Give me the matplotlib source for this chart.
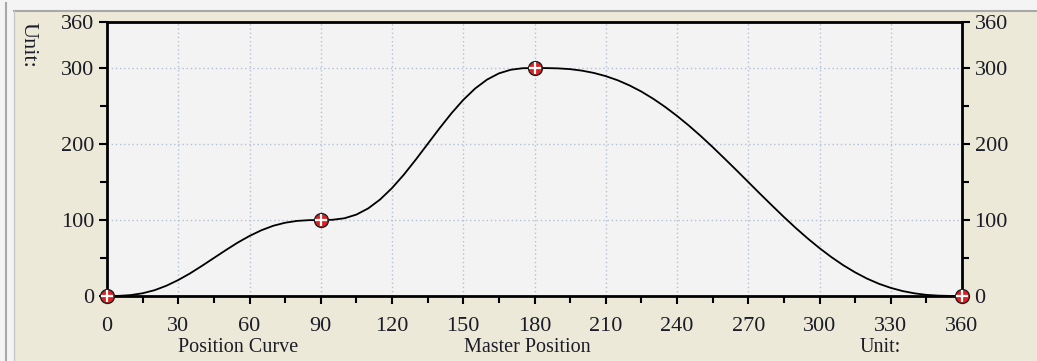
import matplotlib
matplotlib.use("Agg")
import matplotlib.pyplot as plt
from matplotlib.patches import Rectangle
from matplotlib.lines import Line2D

# curve (master position vs slave position), every 5 deg
master_pos = list(range(0, 361, 5))
slave_pos = [0, 0.2, 1.2, 3.6, 7.6, 13.5, 21, 29.8, 39.7, 50,
             60.3, 70.2, 79, 86.5, 92.4, 96.4, 98.8, 99.8, 100,
             100.3, 102.3, 107.1, 115.3, 127, 142, 159.7, 179.4, 200,
             220.6, 240.3, 258, 273, 284.7, 292.9, 297.7, 299.7, 300,
             299.9, 299.5, 298.5, 296.5, 293.5, 289.3, 283.9, 277.1, 269,
             259.5, 248.8, 237, 224.2, 210.5, 196, 180.9, 165.6, 150,
             134.4, 119.1, 104, 89.5, 75.8, 63, 51.2, 40.5, 31.1,
             22.9, 16.1, 10.7, 6.5, 3.5, 1.5, 0.5, 0.1, 0]

# key points (red markers)
key_x = [0, 90, 180, 360]
key_y = [0, 100, 300, 0]

x_ticks = list(range(0, 361, 30))
y_ticks = [0, 100, 200, 300, 360]
y_grid = [100, 200, 300]

plt.rcParams['font.family'] = ['Liberation Serif', 'DejaVu Serif']
txt_col = "#1C1C28"

fig = plt.figure(figsize=(10.37, 3.61), dpi=100)
fig.patch.set_facecolor("#ECE9D8")

# window frame bits (light strip + grey line at top/left)
fig.patches.append(Rectangle((0, 0), 1, 1, transform=fig.transFigure,
                             facecolor="#F4F4F4", edgecolor="none", zorder=-3))
fig.patches.append(Rectangle((14/1037, 0), 1, 1 - 12/361, transform=fig.transFigure,
                             facecolor="#ECE9D8", edgecolor="none", zorder=-2))
fig.lines.append(Line2D([5.5/1037, 5.5/1037], [0, 1 - 3/361], transform=fig.transFigure,
                        color="#A8A8A8", lw=1.5))
fig.lines.append(Line2D([14/1037, 1], [1 - 10.5/361, 1 - 10.5/361], transform=fig.transFigure,
                        color="#A8A8A8", lw=1.5))
fig.lines.append(Line2D([14/1037, 14/1037], [0, 1 - 10.5/361], transform=fig.transFigure,
                        color="#C8C8C8", lw=1))

ax = fig.add_axes([107/1037, 65/361, 855/1037, 273.6/361])
ax.set_facecolor("#F3F3F3")
ax.set_xlim(0, 360)
ax.set_ylim(0, 360)

for gx in x_ticks[1:-1]:
    ax.axvline(gx, color="#B4C0D4", lw=1, ls=(0, (1, 2)), zorder=1)
for gy in y_grid:
    ax.axhline(gy, color="#B4C0D4", lw=1, ls=(0, (1, 2)), zorder=1)

ax.plot(master_pos, slave_pos, color="black", lw=1.3, zorder=3, clip_on=False)
ax.plot(key_x, key_y, ls="none", marker="o", ms=10, mfc="#E02020",
        mec="#202020", mew=1, zorder=5, clip_on=False)
ax.plot(key_x, key_y, ls="none", marker="+", ms=8, mec="white",
        mew=1.6, zorder=6, clip_on=False)

for s in ax.spines.values():
    s.set_color("black")
    s.set_linewidth(2)

ax.set_xticks(x_ticks)
ax.set_xticks(list(range(15, 360, 30)), minor=True)
ax.set_yticks(y_ticks)
ax.set_yticks([50, 150, 250], minor=True)
ax.tick_params(axis="both", which="major", direction="out", length=6, width=1.5,
               labelsize=16, color="black", labelcolor=txt_col)
ax.tick_params(axis="x", which="major", pad=9)
ax.tick_params(axis="y", which="major", pad=3)
ax.tick_params(axis="both", which="minor", direction="out", length=5, width=1.5)
ax.tick_params(axis="y", which="both", right=True, labelright=True)

fig.text(28/1037, 1 - 22/361, "Unit:", rotation=-90, ha="center", va="top",
         fontsize=16, color=txt_col)
fig.text(238/1037, 1 - 348/361, "Position Curve", ha="center", va="center",
         fontsize=14.5, color=txt_col)
fig.text(527/1037, 1 - 348/361, "Master Position", ha="center", va="center",
         fontsize=14.5, color=txt_col)
fig.text(880/1037, 1 - 348/361, "Unit:", ha="center", va="center",
         fontsize=14.5, color=txt_col)

fig.savefig("out.png", dpi=100, facecolor=fig.get_facecolor())
